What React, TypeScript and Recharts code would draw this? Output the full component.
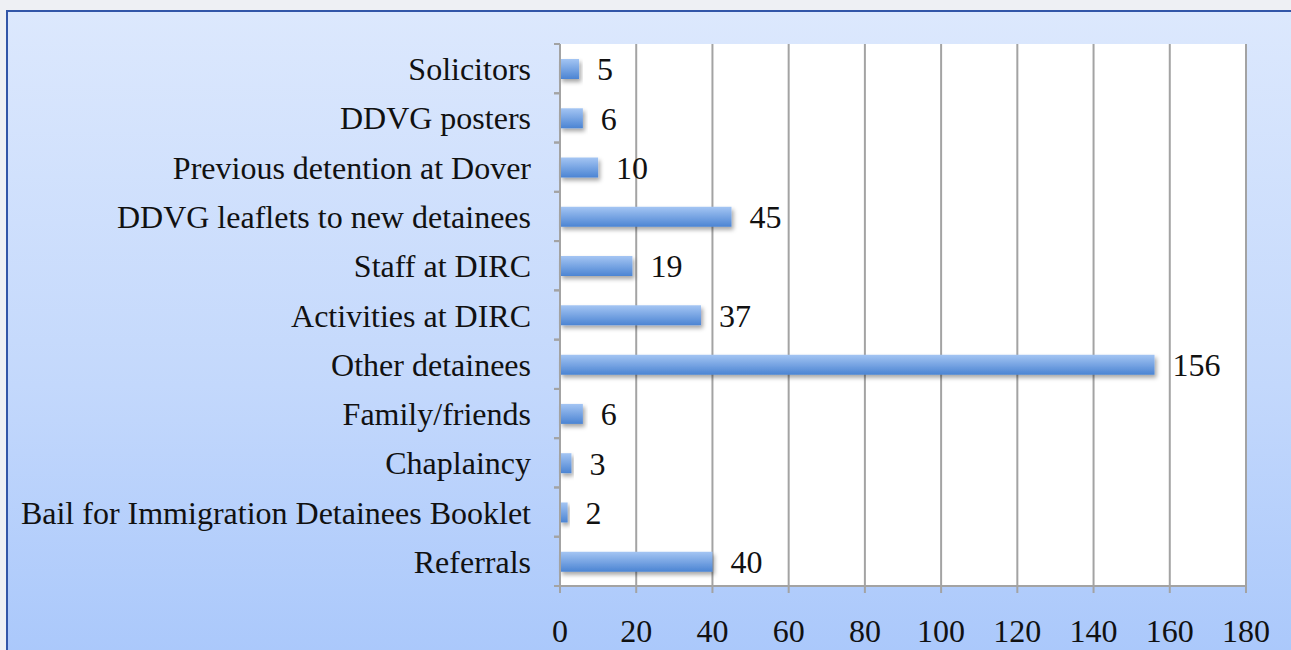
import { Bar, BarChart, CartesianGrid, LabelList, XAxis, YAxis } from "recharts";

const sources = [
  "Solicitors",
  "DDVG posters",
  "Previous detention at Dover",
  "DDVG leaflets to new detainees",
  "Staff at DIRC",
  "Activities at DIRC",
  "Other detainees",
  "Family/friends",
  "Chaplaincy",
  "Bail for Immigration Detainees Booklet",
  "Referrals",
];
const counts = [5, 6, 10, 45, 19, 37, 156, 6, 3, 2, 40];
const xTicks = [0, 20, 40, 60, 80, 100, 120, 140, 160, 180];

const data = sources.map((name, i) => ({ name, value: counts[i] }));

const FONT = "'Liberation Serif', 'DejaVu Serif', serif";
const GRID = "#a3a3a3";

function CategoryTick(props: any) {
  const { x, y, payload } = props;
  const half = payload?.offset ?? 0;
  const edge = x + 29;
  return (
    <g>
      <line x1={edge - 6} x2={edge} y1={y - half} y2={y - half} stroke={GRID} strokeWidth={2} />
      <line x1={edge - 6} x2={edge} y1={y + half} y2={y + half} stroke={GRID} strokeWidth={2} />
      <text x={x} y={y} dy="0.36em" textAnchor="end" fontSize={32} fill="#111" fontFamily={FONT}>
        {payload.value}
      </text>
    </g>
  );
}

export default function App() {
  return (
    <div style={{ position: "fixed", left: 0, top: 0, width: 1291, height: 650, overflow: "hidden", background: "#eef0f4" }}>
      <div
        style={{
          position: "absolute",
          left: 6,
          top: 10,
          width: 1320,
          height: 680,
          borderLeft: "2px solid #3256a8",
          borderTop: "2px solid #3256a8",
          background: "linear-gradient(180deg, #dce8fd 0%, #c3d8fc 55%, #a7c6fb 100%)",
        }}
      />
      <div style={{ position: "absolute", left: 0, top: 0 }}>
        <BarChart
          width={1291}
          height={650}
          data={data}
          layout="vertical"
          margin={{ top: 44, right: 45, bottom: 14, left: 0 }}
        >
          <defs>
            <linearGradient id="barFill" x1="0" y1="0" x2="0" y2="1">
              <stop offset="0%" stopColor="#a4c5f3" />
              <stop offset="100%" stopColor="#4b84d3" />
            </linearGradient>
            <filter id="barShadow" x="-10%" y="-50%" width="130%" height="250%">
              <feDropShadow dx="2" dy="3" stdDeviation="2" floodColor="#000" floodOpacity="0.35" />
            </filter>
          </defs>
          <CartesianGrid horizontal={false} stroke={GRID} strokeWidth={2} fill="#ffffff" fillOpacity={1} />
          <XAxis
            type="number"
            domain={[0, 180]}
            ticks={xTicks}
            interval={0}
            height={50}
            stroke={GRID}
            strokeWidth={2}
            tickSize={7}
            tickMargin={26}
            tick={{ fontSize: 32, fill: "#111", fontFamily: FONT }}
          />
          <YAxis
            type="category"
            dataKey="name"
            width={560}
            interval={0}
            stroke={GRID}
            strokeWidth={2}
            tickLine={false}
            tickSize={0}
            tickMargin={29}
            tick={<CategoryTick />}
          />
          <Bar dataKey="value" barSize={20} fill="url(#barFill)" filter="url(#barShadow)" isAnimationActive={false}>
            <LabelList
              dataKey="value"
              position="right"
              offset={18}
              fontSize={32}
              fill="#111"
              fontFamily={FONT}
            />
          </Bar>
        </BarChart>
      </div>
    </div>
  );
}
